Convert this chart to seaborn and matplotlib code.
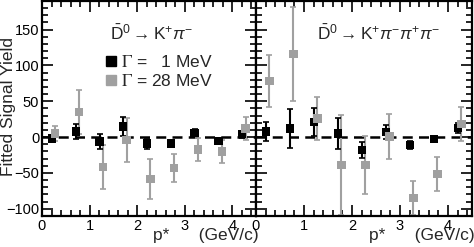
import matplotlib
matplotlib.use("Agg")
import matplotlib.pyplot as plt
from matplotlib.lines import Line2D
from matplotlib.ticker import MultipleLocator
import seaborn as sns
import pandas as pd

# p* bin centres (GeV/c)
p_black = [0.21, 0.71, 1.21, 1.71, 2.21, 2.71, 3.21, 3.71, 4.21]
p_gray = [0.28, 0.78, 1.28, 1.78, 2.28, 2.78, 3.28, 3.78, 4.28]

# D0 -> K pi
kpi_w1 = [-2, 8, -6, 15, -9, -9, 6, -5, 4]
kpi_w1_err = [5, 10, 11, 13, 7, 5, 5, 4, 5]
kpi_w28 = [5, 35, -42, -4, -58, -43, -17, -20, 12]
kpi_w28_err = [11, 31, 31, 31, 28, 20, 16, 16, 16]

# D0 -> K pi pi pi
k3pi_w1 = [8, 12, 21, 5, -18, 7, -11, -3, 13]
k3pi_w1_err = [13, 27, 20, 22, 11, 10, 5, 4, 7]
k3pi_w28 = [78, 116, 26, -39, -39, 1, -85, -51, 18]
k3pi_w28_err = [36, 65, 30, 70, 41, 31, 24, 24, 24]

BLACK = "#000000"
GRAY = "#a0a0a0"

sns.set_theme(style="ticks")
plt.rcParams["font.family"] = ["Liberation Sans", "DejaVu Sans"]
plt.rcParams["mathtext.fontset"] = "custom"
plt.rcParams["mathtext.rm"] = "Liberation Sans"
plt.rcParams["mathtext.it"] = "Liberation Sans:italic"

fig = plt.figure(figsize=(4.74, 2.47), dpi=100)
ax1 = fig.add_axes([42 / 474, 31 / 247, 214 / 474, 215 / 247])
ax2 = fig.add_axes([256 / 474, 31 / 247, 216 / 474, 215 / 247])


def draw_panel(ax, y1, e1, y28, e28, title, title_x):
    df = pd.DataFrame({
        "p": p_black + p_gray,
        "y": y1 + y28,
        "w": ["1"] * len(p_black) + ["28"] * len(p_gray),
    })
    ax.axhline(0, color="black", lw=1.8, ls=(0, (4, 2.5)), zorder=1)
    ax.errorbar(p_black, y1, yerr=e1, fmt="none", ecolor=BLACK, elinewidth=1.5,
                capsize=2, capthick=1.2, zorder=3)
    ax.errorbar(p_gray, y28, yerr=e28, fmt="none", ecolor=GRAY, elinewidth=1.5,
                capsize=2, capthick=1.2, zorder=2)
    sns.scatterplot(data=df, x="p", y="y", hue="w", palette={"1": BLACK, "28": GRAY},
                    marker="s", s=36, linewidth=0, legend=False, ax=ax, zorder=4)
    ax.set_xlim(0, 4.5)
    ax.set_ylim(-110, 190)
    ax.xaxis.set_major_locator(MultipleLocator(1))
    ax.xaxis.set_minor_locator(MultipleLocator(0.2))
    ax.yaxis.set_major_locator(MultipleLocator(50))
    ax.yaxis.set_minor_locator(MultipleLocator(10))
    ax.tick_params(which="both", direction="in", top=True, right=True,
                   width=1.2, labelsize=10.5, pad=2, colors="black")
    ax.tick_params(which="major", length=8)
    ax.tick_params(which="minor", length=4.3)
    for sp in ax.spines.values():
        sp.set_linewidth(1.6)
        sp.set_color("black")
    ax.set_xlabel("p*      (GeV/c)", fontsize=12.5, loc="right")
    ax.xaxis.set_label_coords(1.01, -0.055)
    ax.set_ylabel("")
    ax.text(title_x, 0.851, title, transform=ax.transAxes, ha="center", va="center",
            fontsize=12.5)


draw_panel(ax1, kpi_w1, kpi_w1_err, kpi_w28, kpi_w28_err,
           r"$\bar{\mathrm{D}}^{0} \rightarrow \mathrm{K}^{+}\pi^{-}$", 0.514)
draw_panel(ax2, k3pi_w1, k3pi_w1_err, k3pi_w28, k3pi_w28_err,
           r"$\bar{\mathrm{D}}^{0} \rightarrow \mathrm{K}^{+}\pi^{-}\pi^{+}\pi^{-}$", 0.569)
ax2.tick_params(labelleft=False)

ax1.set_ylabel("Fitted Signal Yield", fontsize=12.5)
ax1.yaxis.set_label_coords(-0.12, 0.507)

handles = [
    Line2D([], [], ls="none", marker="s", ms=6.5, mfc=BLACK, mec=BLACK),
    Line2D([], [], ls="none", marker="s", ms=6.5, mfc=GRAY, mec=GRAY),
]
leg = ax1.legend(handles, [r"$\Gamma$ =   1 MeV", r"$\Gamma$ = 28 MeV"],
                 loc="center left", bbox_to_anchor=(0.30, 0.672), frameon=False,
                 fontsize=12.5, handlelength=0.55, handletextpad=0.3,
                 borderpad=0, borderaxespad=0, labelspacing=0.22)
for t in leg.get_texts():
    t.set_math_fontfamily("stix")

fig.savefig("out.png", dpi=100)
